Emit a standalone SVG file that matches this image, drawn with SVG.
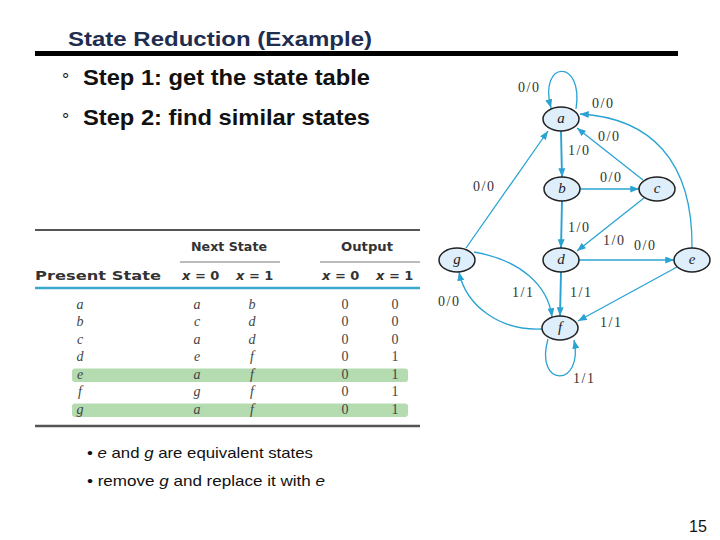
<svg xmlns="http://www.w3.org/2000/svg" width="720" height="540" viewBox="0 0 720 540">
<defs>
<style>
.edge{fill:none;stroke:#2aa3d3;stroke-width:1.3}
.thick{stroke-width:1.9}
.node{fill:#deeefa;stroke:#222;stroke-width:1.5}
.nl{font-family:"Liberation Serif",serif;font-style:italic;font-size:15px;fill:#222;text-anchor:middle}
.el{font-family:"Liberation Serif",serif;font-size:14px;fill:#333;letter-spacing:1.5px}
.cell{font-family:"Liberation Serif",serif;font-style:italic;font-size:14px;fill:#444;text-anchor:middle}
.num{font-family:"Liberation Serif",serif;font-size:14px;fill:#444;text-anchor:middle}
.hdr{font-family:"DejaVu Sans",sans-serif;font-weight:bold;font-size:13px;fill:#333}
.step{font-family:"Liberation Sans",Arial,sans-serif;font-weight:bold;font-size:22px;fill:#111}
.deg{font-family:"Liberation Sans",Arial,sans-serif;font-size:18px;fill:#111}
.bul{font-family:"Liberation Sans",Arial,sans-serif;font-size:15px;fill:#111}
</style>
<marker id="ah" viewBox="0 0 10 8" refX="10" refY="4" markerWidth="9" markerHeight="7" markerUnits="userSpaceOnUse" orient="auto">
<path d="M0,0 L10,4 L0,8 z" fill="#2aa3d3"/>
</marker>
</defs>
<rect width="720" height="540" fill="#fff"/>

<text x="68" y="46" font-family="Liberation Sans,Arial,sans-serif" font-weight="bold" font-size="21" fill="#1f2d4f" textLength="304" lengthAdjust="spacingAndGlyphs">State Reduction (Example)</text>
<rect x="35" y="51" width="643" height="5" fill="#000"/>

<text class="deg" x="62" y="86">°</text>
<text class="step" x="83" y="85" textLength="287" lengthAdjust="spacingAndGlyphs">Step 1: get the state table</text>
<text class="deg" x="62" y="126">°</text>
<text class="step" x="83" y="125" textLength="287" lengthAdjust="spacingAndGlyphs">Step 2: find similar states</text>

<g id="table">
<rect x="72" y="368.5" width="336" height="13.5" rx="3" fill="#b5dbb0"/>
<rect x="72" y="403.5" width="336" height="13.5" rx="3" fill="#b5dbb0"/>
<line x1="35" y1="230" x2="420" y2="230" stroke="#555" stroke-width="2"/>
<text class="hdr" x="191" y="251" textLength="76" lengthAdjust="spacingAndGlyphs">Next State</text>
<text class="hdr" x="341" y="251" textLength="52" lengthAdjust="spacingAndGlyphs">Output</text>
<line x1="180" y1="262" x2="280" y2="262" stroke="#777" stroke-width="1"/>
<line x1="320" y1="262" x2="420" y2="262" stroke="#777" stroke-width="1"/>
<text class="hdr" x="35" y="280" textLength="126" lengthAdjust="spacingAndGlyphs">Present State</text>
<text class="hdr" x="182" y="280"><tspan font-style="italic">x</tspan> = 0</text>
<text class="hdr" x="236" y="280"><tspan font-style="italic">x</tspan> = 1</text>
<text class="hdr" x="322" y="280"><tspan font-style="italic">x</tspan> = 0</text>
<text class="hdr" x="376" y="280"><tspan font-style="italic">x</tspan> = 1</text>
<line x1="35" y1="288" x2="420" y2="288" stroke="#3aa8cf" stroke-width="2.5"/>
<line x1="35" y1="426" x2="420" y2="426" stroke="#555" stroke-width="2.5"/>

<g class="cell">
<text x="80" y="309">a</text><text x="197" y="309">a</text><text x="252" y="309">b</text>
<text x="80" y="326">b</text><text x="197" y="326">c</text><text x="252" y="326">d</text>
<text x="80" y="344">c</text><text x="197" y="344">a</text><text x="252" y="344">d</text>
<text x="80" y="361">d</text><text x="197" y="361">e</text><text x="252" y="361">f</text>
<text x="80" y="379">e</text><text x="197" y="379">a</text><text x="252" y="379">f</text>
<text x="80" y="396">f</text><text x="197" y="396">g</text><text x="252" y="396">f</text>
<text x="80" y="414">g</text><text x="197" y="414">a</text><text x="252" y="414">f</text>
</g>
<g class="num">
<text x="345" y="309">0</text><text x="395" y="309">0</text>
<text x="345" y="326">0</text><text x="395" y="326">0</text>
<text x="345" y="344">0</text><text x="395" y="344">0</text>
<text x="345" y="361">0</text><text x="395" y="361">1</text>
<text x="345" y="379">0</text><text x="395" y="379">1</text>
<text x="345" y="396">0</text><text x="395" y="396">1</text>
<text x="345" y="414">0</text><text x="395" y="414">1</text>
</g>
</g>

<g id="connectors">
<path class="edge" d="M576,109 C584,58 538,60 551,108" marker-end="url(#ah)"/>
<path class="edge thick" d="M561,131 L562,177" marker-end="url(#ah)"/>
<path class="edge" d="M692,248 C693,160 650,118 580,114" marker-end="url(#ah)"/>
<path class="edge" d="M643,180 L577,128" marker-end="url(#ah)"/>
<path class="edge" d="M466,248 L548,131" marker-end="url(#ah)"/>
<path class="edge" d="M580,189 L639,189" marker-end="url(#ah)"/>
<path class="edge thick" d="M562,201 L561,248" marker-end="url(#ah)"/>
<path class="edge" d="M644,198 L577,251" marker-end="url(#ah)"/>
<path class="edge" d="M579,260 L674,260" marker-end="url(#ah)"/>
<path class="edge thick" d="M561,272 L560,316" marker-end="url(#ah)"/>
<path class="edge" d="M677,267 L578,321" marker-end="url(#ah)"/>
<path class="edge" d="M474,252 C520,260 548,285 552,317" marker-end="url(#ah)"/>
<path class="edge" d="M542,329 C500,331 466,306 459,272" marker-end="url(#ah)"/>
<path class="edge" d="M548,339 C534,388 584,388 574,340" marker-end="url(#ah)"/>
<g class="el">
<text x="518" y="92">0/0</text>
<text x="592" y="108">0/0</text>
<text x="598" y="141">0/0</text>
<text x="568" y="155">1/0</text>
<text x="473" y="191">0/0</text>
<text x="600" y="182">0/0</text>
<text x="568" y="232">1/0</text>
<text x="603" y="245">1/0</text>
<text x="634" y="250">0/0</text>
<text x="570" y="297">1/1</text>
<text x="512" y="297">1/1</text>
<text x="438" y="306">0/0</text>
<text x="600" y="327">1/1</text>
<text x="573" y="383">1/1</text>
</g>
</g>

<g id="node-a"><ellipse class="node" cx="561" cy="119" rx="18" ry="12"/><text class="nl" x="561" y="123">a</text></g>
<g id="node-b"><ellipse class="node" cx="562" cy="189" rx="18" ry="12"/><text class="nl" x="562" y="193">b</text></g>
<g id="node-c"><ellipse class="node" cx="657" cy="189" rx="18" ry="12"/><text class="nl" x="657" y="193">c</text></g>
<g id="node-g"><ellipse class="node" cx="457" cy="260" rx="18" ry="12"/><text class="nl" x="457" y="264">g</text></g>
<g id="node-d"><ellipse class="node" cx="561" cy="260" rx="18" ry="12"/><text class="nl" x="561" y="264">d</text></g>
<g id="node-e"><ellipse class="node" cx="692" cy="260" rx="18" ry="12"/><text class="nl" x="692" y="264">e</text></g>
<g id="node-f"><ellipse class="node" cx="560" cy="328" rx="18" ry="12"/><text class="nl" x="560" y="332">f</text></g>

<text class="bul" x="87" y="458" textLength="226" lengthAdjust="spacingAndGlyphs">• <tspan font-style="italic">e</tspan> and <tspan font-style="italic">g</tspan> are equivalent states</text>
<text class="bul" x="87" y="486" textLength="238" lengthAdjust="spacingAndGlyphs">• remove <tspan font-style="italic">g</tspan> and replace it with <tspan font-style="italic">e</tspan></text>

<text x="689" y="532" font-family="Liberation Sans,Arial,sans-serif" font-size="16" fill="#111">15</text>
</svg>
